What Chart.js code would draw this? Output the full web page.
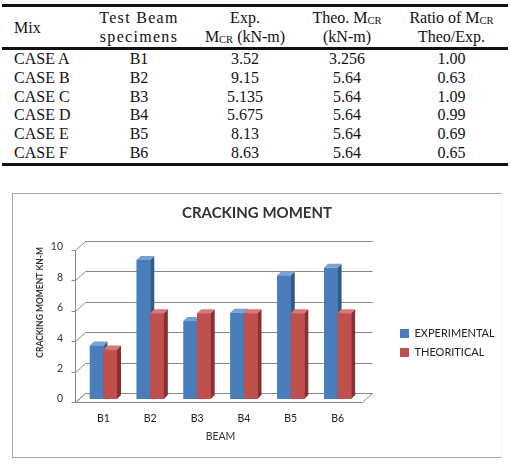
<!DOCTYPE html>
<html><head><meta charset="utf-8">
<script src="https://cdn.jsdelivr.net/npm/chart.js@4/dist/chart.umd.min.js"></script>
<style>
html,body{margin:0;padding:0;background:#fff;width:511px;height:468px;overflow:hidden;}
#tbl{position:absolute;left:2px;top:4px;width:506px;border-collapse:separate;border-spacing:0;table-layout:fixed;font-family:"Liberation Serif","Times New Roman",serif;font-size:16px;color:#111;}
#tbl th{font-weight:normal;padding:1px 0;line-height:19px;border-top:3px solid #111;border-bottom:3px solid #111;text-align:center;vertical-align:middle;}
#tbl td{padding:0;line-height:18.83px;text-align:center;white-space:nowrap;}
#tbl tr:last-child td{border-bottom:3px solid #111;}
#tbl .l{text-align:left;padding-left:12px;}
sub{font-size:10.5px;vertical-align:baseline;position:relative;top:1px;line-height:0;}
.sp{letter-spacing:1.3px;}
#box{position:absolute;left:12px;top:193px;width:490px;height:265px;box-sizing:border-box;border:1px solid #a8a8a8;border-right-color:#f0f0f0;}
#c{display:block;}
</style>
</head><body>
<table id="tbl">
<colgroup><col style="width:85px"><col style="width:104px"><col style="width:108px"><col style="width:96px"><col style="width:113px"></colgroup>
<thead><tr>
<th class="l">Mix</th>
<th class="sp">Test Beam<br>specimens</th>
<th>Exp.<br>M<sub>CR</sub> (kN-m)</th>
<th>Theo. M<sub>CR</sub><br>(kN-m)</th>
<th>Ratio of M<sub>CR</sub><br>Theo/Exp.</th>
</tr></thead>
<tbody id="tb"></tbody>
</table>
<div id="box"><canvas id="c" width="488" height="263"></canvas></div>
<script>
// ---- data ----
const mixes = ['CASE A','CASE B','CASE C','CASE D','CASE E','CASE F'];
const categories = ['B1','B2','B3','B4','B5','B6'];
const experimental = [3.52, 9.15, 5.135, 5.675, 8.13, 8.63];
const theoretical = [3.256, 5.64, 5.64, 5.64, 5.64, 5.64];
const ratios = ['1.00','0.63','1.09','0.99','0.69','0.65'];
const yTicks = [0, 2, 4, 6, 8, 10];
const seriesNames = ['EXPERIMENTAL', 'THEORITICAL'];

// ---- table ----
const tb = document.getElementById('tb');
mixes.forEach((m, i) => {
  const tr = document.createElement('tr');
  [m, categories[i], String(experimental[i]), String(theoretical[i]), ratios[i]].forEach((t, j) => {
    const td = document.createElement('td');
    td.textContent = t;
    if (j === 0) td.className = 'l';
    tr.appendChild(td);
  });
  tb.appendChild(tr);
});

// ---- chart ----
const COLORS = [
  {front:'#4a7ebb', side:'#2f5a8c', top:'#7aa1d2'},
  {front:'#c0504d', side:'#8a2f2d', top:'#d77a77'}
];
const GRID = '#8a8a8a';

const frame3d = {
  id: 'frame3d',
  beforeLayout(chart) {
    const lg = chart.legend;
    if (lg && !lg._patched) {
      const orig = lg.fit;
      lg.fit = function() { orig.call(this); this.width = 140; };
      lg._patched = true;
    }
  },
  afterLayout(chart) {
    const lg = chart.legend;
    if (!lg) return;
    const w = lg.width, h = lg.height;
    lg.left = 379; lg.right = lg.left + w;
    lg.top = 126; lg.bottom = lg.top + h;
  },
  beforeDatasetsDraw(chart) {
    const {ctx, chartArea: {left, right}, scales: {y}} = chart;
    const r = v => Math.round(v) + 0.5;
    ctx.save();
    ctx.strokeStyle = GRID;
    ctx.lineWidth = 1;
    const y0 = y.getPixelForValue(yTicks[0]);
    const yTop = y.getPixelForValue(yTicks[yTicks.length - 1]);
    // floor
    ctx.beginPath();
    ctx.moveTo(r(left - 5), r(y0 + 3));
    ctx.lineTo(r(right + 1), r(y0 + 3));
    ctx.lineTo(r(right + 11), r(y0 - 6));
    ctx.lineTo(r(left + 5), r(y0 - 6));
    ctx.closePath();
    ctx.stroke();
    // axis line
    ctx.beginPath();
    ctx.moveTo(r(left - 5), r(y0 + 3));
    ctx.lineTo(r(left - 5), r(yTop + 3));
    ctx.stroke();
    // gridlines on back wall + tick marks
    yTicks.forEach(v => {
      const yy = y.getPixelForValue(v);
      ctx.beginPath();
      ctx.moveTo(r(left - 9), r(yy + 3));
      ctx.lineTo(r(left - 5), r(yy + 3));
      ctx.lineTo(r(left + 5), r(yy - 6));
      ctx.lineTo(r(right + 11), r(yy - 6));
      ctx.stroke();
    });
    ctx.restore();
  },
  afterDatasetsDraw(chart) {
    const {ctx} = chart;
    const metas = [chart.getDatasetMeta(0), chart.getDatasetMeta(1)];
    const dx = 4, dy = 4;
    ctx.save();
    for (let i = 0; i < categories.length; i++) {
      metas.forEach((meta, k) => {
        const el = meta.data[i];
        if (!el) return;
        const p = el.getProps(['x', 'y', 'base', 'width'], true);
        const L = p.x - p.width / 2, R = p.x + p.width / 2;
        const c = COLORS[k];
        ctx.fillStyle = c.front;
        ctx.fillRect(L, p.y, p.width, p.base - p.y);
        ctx.fillStyle = c.side;
        ctx.beginPath();
        ctx.moveTo(R, p.y); ctx.lineTo(R + dx, p.y - dy);
        ctx.lineTo(R + dx, p.base - dy); ctx.lineTo(R, p.base);
        ctx.closePath(); ctx.fill();
        ctx.fillStyle = c.top;
        ctx.beginPath();
        ctx.moveTo(L, p.y); ctx.lineTo(L + dx, p.y - dy);
        ctx.lineTo(R + dx, p.y - dy); ctx.lineTo(R, p.y);
        ctx.closePath(); ctx.fill();
      });
    }
    ctx.restore();
  }
};

const FONT = 'Lato, "Open Sans", sans-serif';

new Chart(document.getElementById('c'), {
  type: 'bar',
  data: {
    labels: categories,
    datasets: [
      {label: seriesNames[0], data: experimental, backgroundColor: COLORS[0].front, borderWidth: 0},
      {label: seriesNames[1], data: theoretical, backgroundColor: COLORS[1].front, borderWidth: 0}
    ]
  },
  options: {
    responsive: false,
    animation: false,
    devicePixelRatio: 1,
    layout: {padding: 0},
    datasets: {bar: {categoryPercentage: 0.58, barPercentage: 1.0}},
    plugins: {
      title: {display: true, text: 'CRACKING MOMENT', color: '#333',
        font: {family: FONT, size: 15, weight: 'bold'}, padding: {top: 10, bottom: 25}},
      legend: {position: 'right', align: 'start',
        labels: {boxWidth: 9, boxHeight: 9, color: '#222', padding: 8,
          font: {family: FONT, size: 11}}},
      tooltip: {enabled: false}
    },
    scales: {
      x: {
        grid: {display: false, drawTicks: false},
        border: {display: false},
        ticks: {color: '#222', padding: 13, font: {family: FONT, size: 10.5}},
        title: {display: true, text: 'BEAM', color: '#333',
          font: {family: FONT, size: 10.5}, padding: {top: 0, bottom: 14}},
        afterFit(s) { s.height = 58; }
      },
      y: {
        min: yTicks[0], max: yTicks[yTicks.length - 1],
        afterBuildTicks(s) { s.ticks = yTicks.map(v => ({value: v})); },
        grid: {display: false, drawTicks: false},
        border: {display: false},
        ticks: {color: '#333', padding: 17, font: {family: FONT, size: 10.5}},
        title: {display: true, text: 'CRACKING MOMENT KN-M', color: '#333', align: 'end',
          font: {family: FONT, size: 8.5, weight: 'bold'}, padding: {top: 22, bottom: 0}},
        afterFit(s) { s.width = 67; }
      }
    }
  },
  plugins: [frame3d]
});
</script>
</body></html>
